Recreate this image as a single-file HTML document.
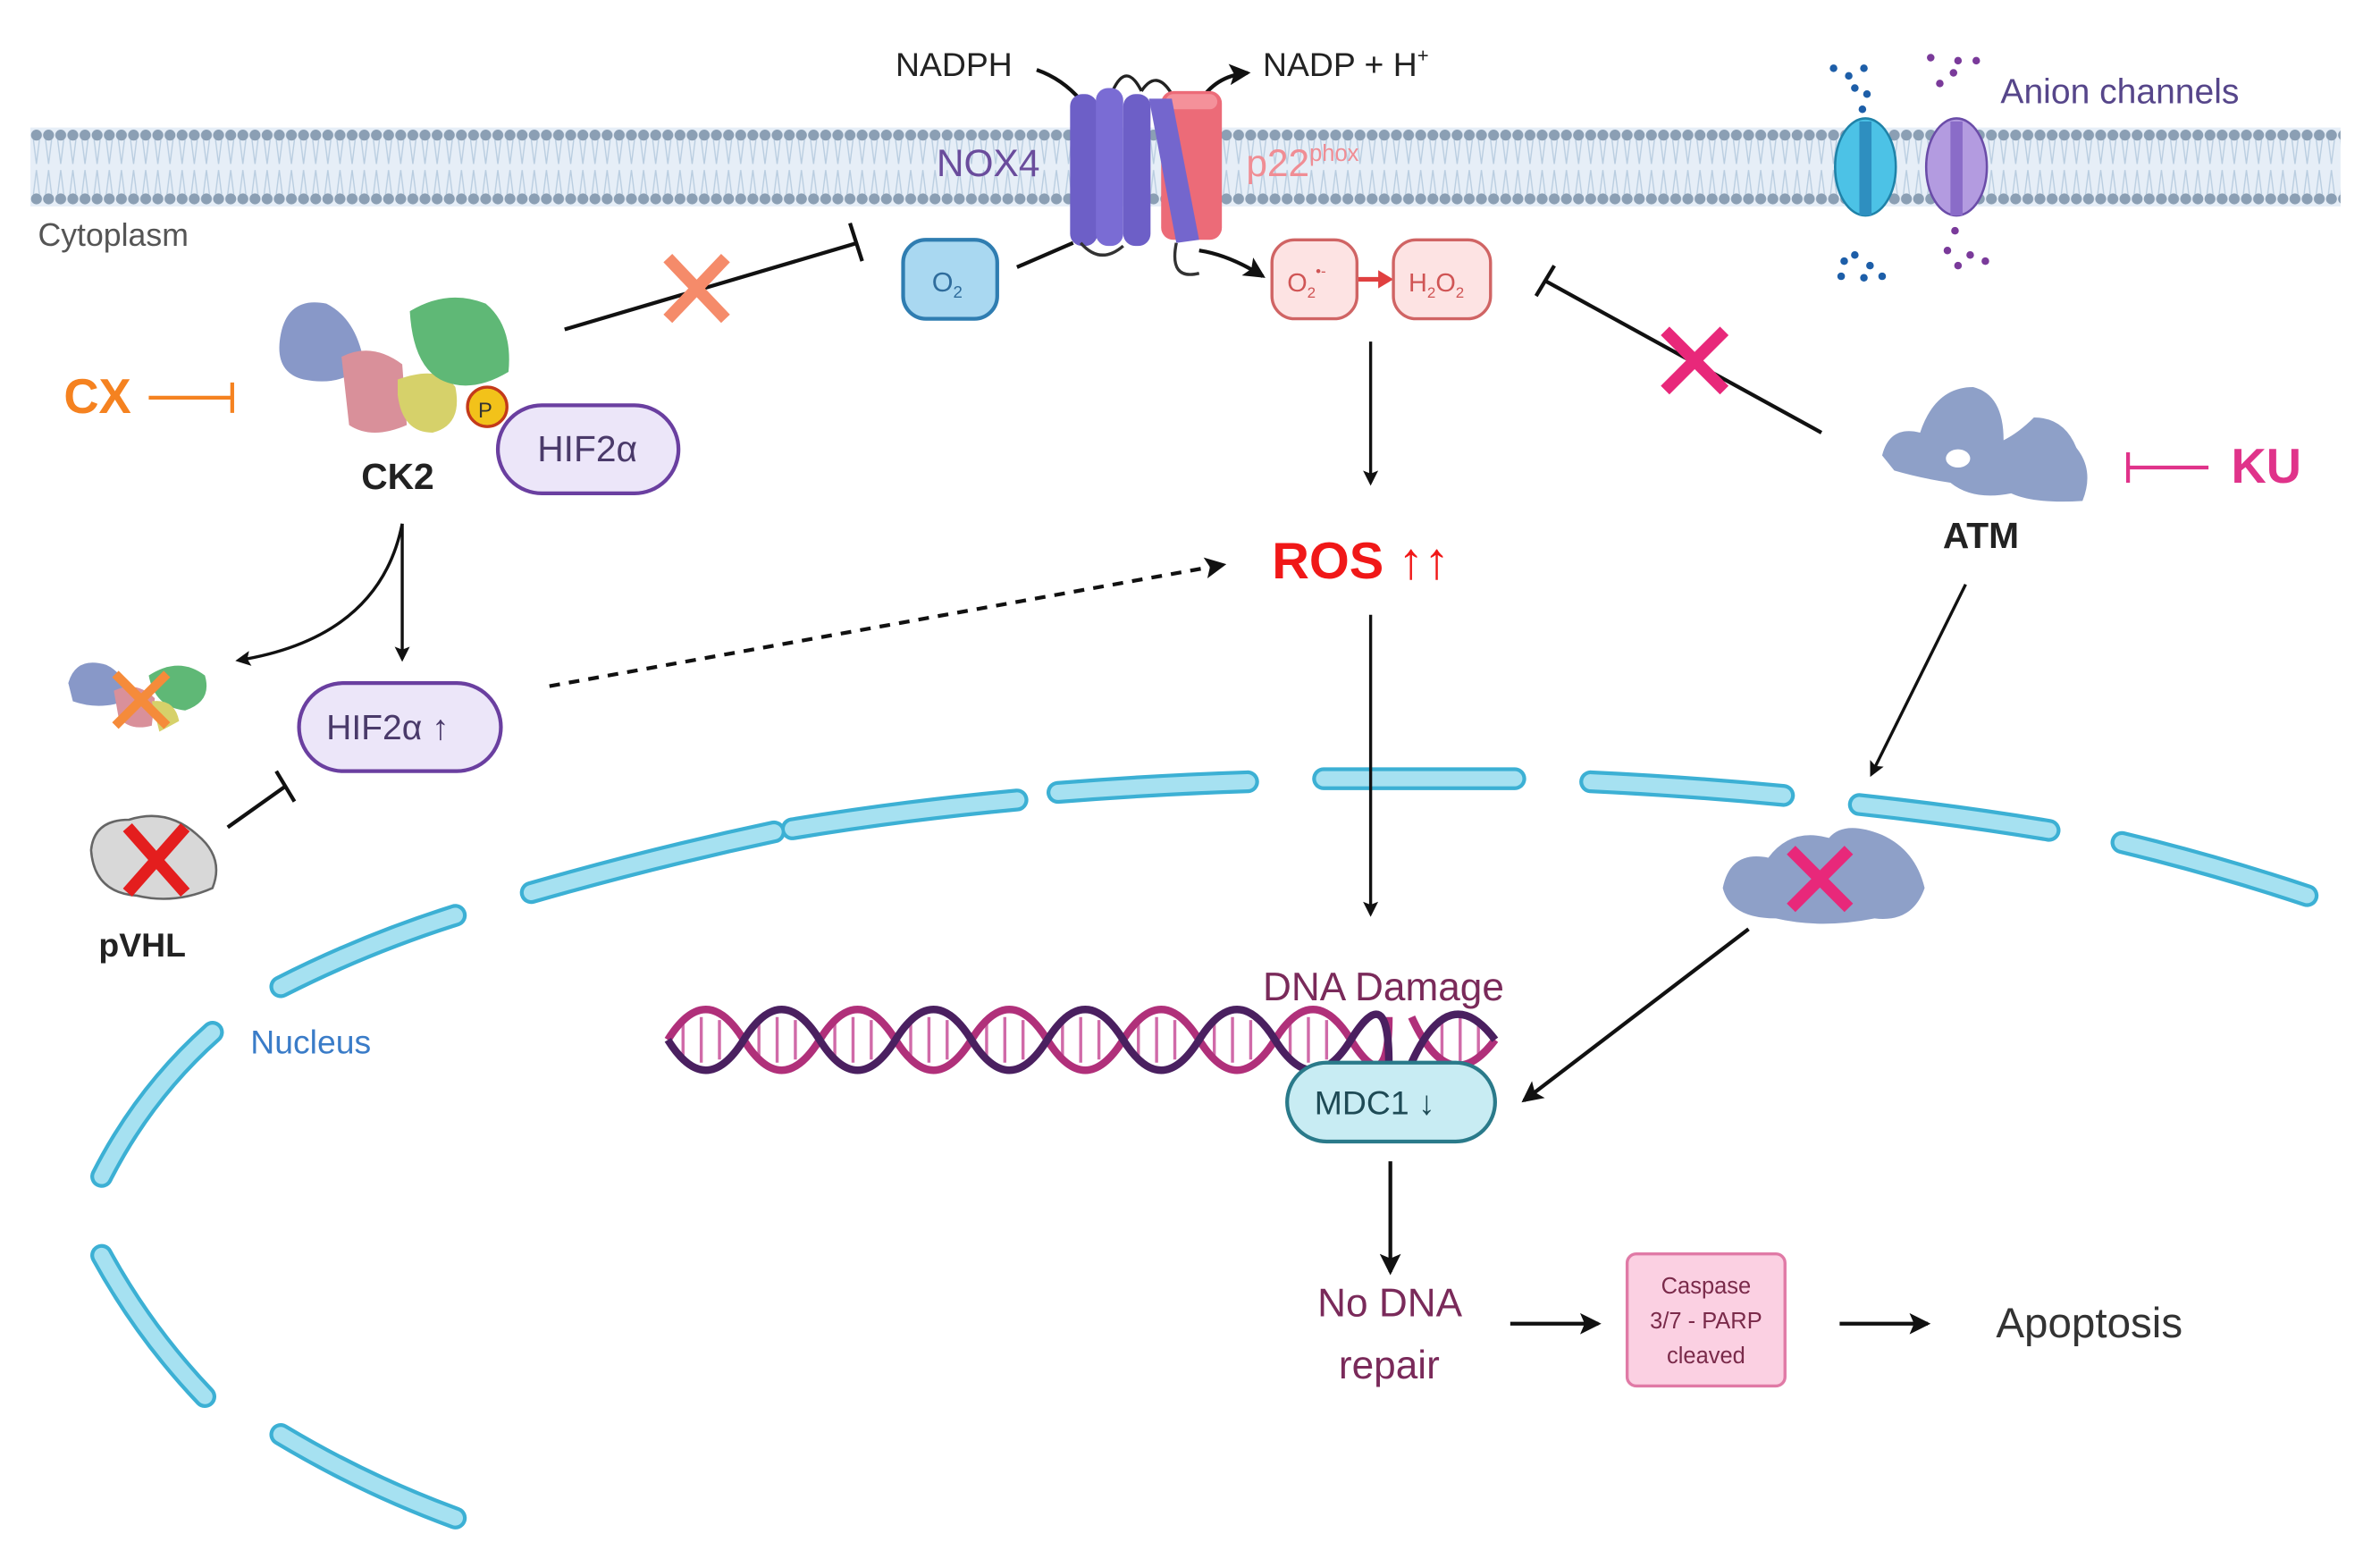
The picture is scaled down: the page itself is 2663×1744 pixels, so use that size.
<!DOCTYPE html>
<html><head><meta charset="utf-8"><style>
html,body{margin:0;padding:0;background:#fff;}
svg{display:block;font-family:"Liberation Sans",sans-serif;}
</style></head><body>
<svg width="2663" height="1744" viewBox="0 0 1568 1027" preserveAspectRatio="none" xmlns="http://www.w3.org/2000/svg">
<defs>
<pattern id="lip" x="20" y="0" width="8" height="1027" patternUnits="userSpaceOnUse">
<rect x="0" y="84" width="8" height="52" fill="#e6eef7"/>
<path d="M2,92 L4,108 M6,92 L4,108 M2,128 L4,112 M6,128 L4,112" stroke="#b9cde0" stroke-width="0.8"/>
<circle cx="4" cy="89" r="3.6" fill="#8b9fb4"/>
<circle cx="4" cy="131" r="3.6" fill="#8b9fb4"/>
</pattern>
<marker id="ah" markerWidth="10" markerHeight="10" refX="8" refY="5" orient="auto" markerUnits="userSpaceOnUse"><path d="M0,0 L10,5 L0,10 L2,5Z" fill="#111"/></marker>
<marker id="ahs" markerWidth="14" markerHeight="14" refX="12" refY="7" orient="auto" markerUnits="userSpaceOnUse"><path d="M0,0 L14,7 L0,14 L3,7Z" fill="#111"/></marker>
</defs>

<!-- membrane -->
<rect x="20" y="80" width="1522" height="60" fill="url(#lip)"/>

<!-- text top -->
<text x="590" y="50" font-size="22" fill="#222">NADPH</text>
<path d="M683,46 Q700,52 712,66" stroke="#111" stroke-width="2.5" fill="none"/>
<text x="832" y="50" font-size="22" fill="#222">NADP + H<tspan font-size="13" dy="-9">+</tspan></text>
<path d="M790,68 Q800,50 822,48" stroke="#111" stroke-width="2.5" fill="none" marker-end="url(#ahs)"/>
<text x="25" y="162" font-size="21" fill="#555">Cytoplasm</text>

<!-- NOX4 protein -->
<path d="M733,60 Q742,40 752,60 M752,60 Q762,45 772,62" stroke="#222" stroke-width="2" fill="none"/>
<rect x="765" y="60" width="40" height="98" rx="8" fill="#ec6b78"/>
<rect x="768" y="62" width="34" height="10" rx="5" fill="#f4919a"/>
<rect x="705" y="62" width="18" height="100" rx="8" fill="#6d5fc7"/>
<rect x="722" y="58" width="18" height="104" rx="8" fill="#7a6cd4"/>
<rect x="740" y="62" width="18" height="100" rx="8" fill="#6d5fc7"/>
<path d="M757,65 L772,65 L790,158 L775,160Z" fill="#7466cd"/>
<path d="M712,160 Q725,175 740,162 M775,160 Q770,185 790,180" stroke="#333" stroke-width="2" fill="none"/>
<text x="617" y="116" font-size="25" fill="#6a4c9c">NOX4</text>
<text x="821" y="116" font-size="25" fill="#f08d94">p22<tspan font-size="15" dy="-10">phox</tspan></text>

<!-- O2 boxes -->
<rect x="595" y="158" width="62" height="52" rx="15" fill="#a9d8f1" stroke="#2f7db1" stroke-width="2.5"/>
<text x="614" y="192" font-size="18" fill="#2f6c9c">O<tspan font-size="11" dy="4">2</tspan></text>
<path d="M670,176 L707,160" stroke="#111" stroke-width="2.5"/>
<path d="M790,165 Q810,168 832,182" stroke="#111" stroke-width="2.5" fill="none" marker-end="url(#ahs)"/>
<rect x="838" y="158" width="56" height="52" rx="15" fill="#fde3e3" stroke="#d06464" stroke-width="2"/>
<text x="848" y="192" font-size="17" fill="#d05555">O<tspan font-size="10" dy="4">2</tspan><tspan font-size="10" dy="-14">•-</tspan></text>
<path d="M895,184 L910,184" stroke="#e04040" stroke-width="3"/><path d="M908,178 L918,184 L908,190Z" fill="#e04040"/>
<rect x="918" y="158" width="64" height="52" rx="15" fill="#fde3e3" stroke="#d06464" stroke-width="2"/>
<text x="928" y="192" font-size="17" fill="#d05555">H<tspan font-size="10" dy="4">2</tspan><tspan dy="-4">O</tspan><tspan font-size="10" dy="4">2</tspan></text>

<!-- CK2 inhibition to O2 -->
<path d="M372,217 L565,160" stroke="#111" stroke-width="2.5"/>
<path d="M560,147 L568,172" stroke="#111" stroke-width="2.5"/>
<path d="M440,170 L478,210 M478,170 L440,210" stroke="#f58b6a" stroke-width="8"/>

<!-- ROS arrow -->
<path d="M903,225 L903,318" stroke="#111" stroke-width="2" marker-end="url(#ah)"/>
<text x="838" y="381" font-size="34" font-weight="bold" fill="#f01818">ROS ↑↑</text>

<!-- ATM inhibition -->
<path d="M1200,285 L1018,185" stroke="#111" stroke-width="2.5"/>
<path d="M1012,195 L1024,175" stroke="#111" stroke-width="2.5"/>
<path d="M1097,218 L1136,257 M1136,218 L1097,257" stroke="#e8287a" stroke-width="8"/>

<!-- anion channels -->
<g fill="#1d5ea8"><circle cx="1208" cy="45" r="2.5"/><circle cx="1218" cy="50" r="2.5"/><circle cx="1228" cy="45" r="2.5"/><circle cx="1222" cy="58" r="2.5"/><circle cx="1230" cy="62" r="2.5"/><circle cx="1227" cy="72" r="2.5"/>
<circle cx="1222" cy="168" r="2.5"/><circle cx="1232" cy="175" r="2.5"/><circle cx="1213" cy="182" r="2.5"/><circle cx="1228" cy="183" r="2.5"/><circle cx="1240" cy="182" r="2.5"/><circle cx="1215" cy="172" r="2.5"/></g>
<g fill="#7a3a9a"><circle cx="1272" cy="38" r="2.5"/><circle cx="1290" cy="40" r="2.5"/><circle cx="1302" cy="40" r="2.5"/><circle cx="1278" cy="55" r="2.5"/><circle cx="1287" cy="48" r="2.5"/>
<circle cx="1288" cy="152" r="2.5"/><circle cx="1283" cy="165" r="2.5"/><circle cx="1298" cy="168" r="2.5"/><circle cx="1290" cy="175" r="2.5"/><circle cx="1308" cy="172" r="2.5"/></g>
<ellipse cx="1229" cy="110" rx="20" ry="32" fill="#4cc2e6" stroke="#1f82a8" stroke-width="1.5"/>
<rect x="1225" y="80" width="8" height="62" fill="#2e8fc0"/>
<ellipse cx="1289" cy="110" rx="20" ry="32" fill="#b39be0" stroke="#6a4ca8" stroke-width="1.5"/>
<rect x="1285" y="80" width="8" height="62" fill="#8a6cc8"/>
<text x="1318" y="68" font-size="23" fill="#56468a">Anion channels</text>

<!-- ATM protein -->
<g fill="#8ea0c8">
<path d="M1240,300 Q1245,280 1265,285 Q1275,255 1300,255 Q1320,260 1320,290 Q1330,285 1340,275 Q1360,275 1368,295 Q1380,310 1372,330 Q1340,332 1325,325 Q1300,330 1285,318 Q1265,315 1248,310Z"/>
</g>
<ellipse cx="1290" cy="302" rx="8" ry="6" fill="#fff"/>
<text x="1280" y="361" font-size="24" font-weight="bold" fill="#222">ATM</text>
<path d="M1402,298 L1402,318 M1402,308 L1455,308" stroke="#e0338a" stroke-width="2.5"/>
<text x="1470" y="318" font-size="32" font-weight="bold" fill="#e0338a">KU</text>

<!-- CK2 -->
<path d="M185,220 Q190,195 215,200 Q235,210 240,240 Q225,255 200,250 Q180,245 185,220Z" fill="#8898c8"/>
<path d="M225,235 Q245,225 265,240 L268,280 Q245,290 230,280Z" fill="#d9909a"/>
<path d="M262,250 Q290,240 300,255 Q305,280 285,285 Q265,285 262,260Z" fill="#d6d16a"/>
<path d="M270,205 Q295,190 320,200 Q338,215 335,245 Q310,260 290,250 Q272,240 270,205Z" fill="#5fb876"/>
<circle cx="321" cy="268" r="13" fill="#f2c21a" stroke="#c43a1a" stroke-width="2"/>
<text x="315" y="275" font-size="14" fill="#333">P</text>
<rect x="328" y="267" width="119" height="58" rx="29" fill="#ece6f9" stroke="#6a3fa0" stroke-width="2.5"/>
<text x="354" y="304" font-size="24" fill="#4a3a6a">HIF2α</text>
<text x="238" y="322" font-size="24" font-weight="bold" fill="#222">CK2</text>
<text x="42" y="272" font-size="32" font-weight="bold" fill="#f58220">CX</text>
<path d="M98,262 L153,262 M153,252 L153,272" stroke="#f58220" stroke-width="2.5"/>

<!-- arrows from CK2 -->
<path d="M265,345 L265,434" stroke="#111" stroke-width="2" marker-end="url(#ah)"/>
<path d="M265,345 Q250,420 157,435" stroke="#111" stroke-width="2" fill="none" marker-end="url(#ah)"/>

<!-- degraded CK2 -->
<path d="M45,450 Q50,432 70,438 Q85,445 82,462 Q65,468 48,462Z" fill="#8898c8"/>
<path d="M75,455 Q90,448 102,460 L100,478 Q85,482 78,472Z" fill="#d9909a"/>
<path d="M98,445 Q118,432 135,445 Q140,462 122,468 Q102,466 98,445Z" fill="#5fb876"/>
<path d="M100,462 Q115,460 118,475 L105,482Z" fill="#d6d16a"/>
<path d="M76,444 L110,478 M110,444 L76,478" stroke="#f58b3a" stroke-width="6"/>

<!-- HIF2a up -->
<rect x="197" y="450" width="133" height="58" rx="29" fill="#ece6f9" stroke="#6a3fa0" stroke-width="2.5"/>
<text x="215" y="487" font-size="23" fill="#4a3a6a">HIF2α ↑</text>
<path d="M362,452 L806,372" stroke="#111" stroke-width="2.5" stroke-dasharray="7,6" marker-end="url(#ahs)"/>

<!-- pVHL -->
<path d="M60,560 Q62,540 85,540 Q110,532 130,550 Q148,565 140,585 Q115,596 90,590 Q62,588 60,560Z" fill="#d8d8d8" stroke="#666" stroke-width="1.5"/>
<path d="M84,545 L122,588 M122,545 L84,588" stroke="#e41e1e" stroke-width="8"/>
<text x="65" y="630" font-size="22" font-weight="bold" fill="#222">pVHL</text>
<path d="M150,545 L188,518 M182,508 L194,528" stroke="#111" stroke-width="2.5"/>

<!-- nucleus -->
<g fill="none" stroke-linecap="round">
<g stroke="#3cb0d4" stroke-width="15">
<path d="M185,945 Q240,978 300,1000"/><path d="M67,827 Q95,878 135,920"/><path d="M67,775 Q95,720 140,680"/><path d="M185,650 Q240,622 300,603"/><path d="M350,588 Q430,565 510,548"/><path d="M522,546 Q595,534 670,527"/><path d="M697,522 Q760,517 822,515"/><path d="M872,513 L998,513"/><path d="M1048,515 Q1112,518 1175,524"/><path d="M1225,530 Q1290,537 1350,547"/><path d="M1398,555 Q1460,570 1520,590"/>
</g>
<g stroke="#a6e1f1" stroke-width="10">
<path d="M185,945 Q240,978 300,1000"/><path d="M67,827 Q95,878 135,920"/><path d="M67,775 Q95,720 140,680"/><path d="M185,650 Q240,622 300,603"/><path d="M350,588 Q430,565 510,548"/><path d="M522,546 Q595,534 670,527"/><path d="M697,522 Q760,517 822,515"/><path d="M872,513 L998,513"/><path d="M1048,515 Q1112,518 1175,524"/><path d="M1225,530 Q1290,537 1350,547"/><path d="M1398,555 Q1460,570 1520,590"/>
</g></g>
<text x="165" y="694" font-size="22" fill="#3a7cc8">Nucleus</text>

<!-- ROS to DNA -->
<path d="M903,405 L903,602" stroke="#111" stroke-width="2" marker-end="url(#ah)"/>
<!-- ATM to nucleus -->
<path d="M1295,385 L1233,510" stroke="#111" stroke-width="2" marker-end="url(#ah)"/>
<path d="M1135,585 Q1140,560 1165,565 Q1180,545 1205,552 Q1215,540 1240,550 Q1262,560 1268,585 Q1260,608 1235,605 Q1200,612 1170,605 Q1140,605 1135,585Z" fill="#8ea0c8"/>
<path d="M1180,560 L1218,598 M1218,560 L1180,598" stroke="#e8287a" stroke-width="8"/>
<path d="M1152,612 L1004,725" stroke="#111" stroke-width="2.5" marker-end="url(#ahs)"/>

<!-- DNA -->
<text x="832" y="659" font-size="26" fill="#7a2a5a">DNA Damage</text>
<g stroke="#d06aa8" stroke-width="2">
<path d="M450,672 V698 M462,670 V700 M474,672 V698 M500,672 V698 M512,670 V700 M524,672 V698 M550,672 V698 M562,670 V700 M574,672 V698 M600,672 V698 M612,670 V700 M624,672 V698 M650,672 V698 M662,670 V700 M674,672 V698 M700,672 V698 M712,670 V700 M724,672 V698 M750,672 V698 M762,670 V700 M774,672 V698 M800,672 V698 M812,670 V700 M824,672 V698 M850,672 V698 M862,670 V700 M874,672 V698 M950,672 V698 M962,670 V700 M974,672 V698"/>
</g>
<path d="M440,685 Q465,645 490,685 T540,685 T590,685 T640,685 T690,685 T740,685 T790,685 T840,685 T890,685 T915,670 M930,670 Q955,725 985,685" stroke="#b0307a" stroke-width="5" fill="none"/>
<path d="M440,685 Q465,725 490,685 T540,685 T590,685 T640,685 T690,685 T740,685 T790,685 T840,685 T890,685 T915,700 M930,700 Q955,645 985,685" stroke="#4a2060" stroke-width="5" fill="none"/>
<rect x="848" y="700" width="137" height="52" rx="26" fill="#c8ecf3" stroke="#2a7a8a" stroke-width="2.5"/>
<text x="866" y="734" font-size="22" fill="#1e4a55">MDC1 ↓</text>
<path d="M916,765 L916,838" stroke="#111" stroke-width="2.5" marker-end="url(#ahs)"/>
<text x="868" y="867" font-size="26" fill="#7a2a5a">No DNA</text>
<text x="882" y="908" font-size="26" fill="#7a2a5a">repair</text>
<path d="M995,872 L1053,872" stroke="#111" stroke-width="2.5" marker-end="url(#ahs)"/>
<rect x="1072" y="826" width="104" height="87" rx="6" fill="#fbd0e2" stroke="#e07aa6" stroke-width="2"/>
<text x="1124" y="852" font-size="15" fill="#7a2a4a" text-anchor="middle">Caspase</text>
<text x="1124" y="875" font-size="15" fill="#7a2a4a" text-anchor="middle">3/7 - PARP</text>
<text x="1124" y="898" font-size="15" fill="#7a2a4a" text-anchor="middle">cleaved</text>
<path d="M1212,872 L1270,872" stroke="#111" stroke-width="2.5" marker-end="url(#ahs)"/>
<text x="1315" y="881" font-size="28" fill="#333">Apoptosis</text>
</svg>
</body></html>
